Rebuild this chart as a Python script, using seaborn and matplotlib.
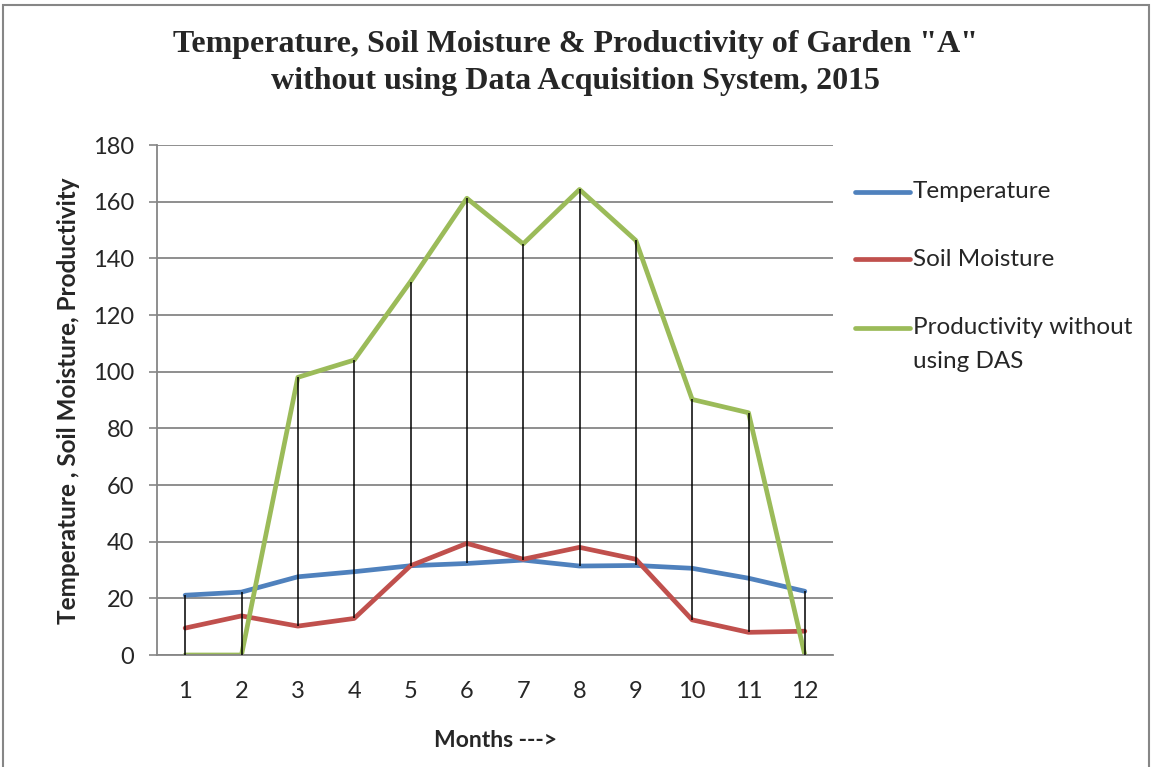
import numpy as np
import pandas as pd
import matplotlib
matplotlib.use("Agg")
import matplotlib.pyplot as plt
from matplotlib.lines import Line2D
from matplotlib.patches import Rectangle
import seaborn as sns

months = [1, 2, 3, 4, 5, 6, 7, 8, 9, 10, 11, 12]
temperature = [21.1, 22.2, 27.6, 29.4, 31.5, 32.3, 33.5, 31.4, 31.6, 30.6, 27.1, 22.5]
soil_moisture = [9.5, 13.8, 10.2, 12.9, 31.5, 39.4, 33.8, 38.0, 33.8, 12.4, 8.0, 8.4]
productivity = [0, 0, 98.0, 104.1, 131.8, 161.2, 145.1, 164.3, 146.3, 90.2, 85.5, 0]
series_names = ["Temperature", "Soil Moisture", "Productivity without using DAS"]
legend_labels = ["Temperature", "Soil Moisture", "Productivity without\nusing DAS"]
y_ticks = [0, 20, 40, 60, 80, 100, 120, 140, 160, 180]

title = 'Temperature, Soil Moisture & Productivity of Garden "A"\nwithout using Data Acquisition System, 2015'
x_label = "Months --->"
y_label = "Temperature , Soil Moisture, Productivity"

colors = ["#4F81BD", "#C0504D", "#9BBB59"]

df = pd.DataFrame({
    "Month": months * 3,
    "Value": temperature + soil_moisture + productivity,
    "Series": sum([[s] * len(months) for s in series_names], []),
})

sns.set_style("white")
plt.rcParams["font.family"] = ["Lato", "DejaVu Sans"]

W, H = 1151, 767
fig = plt.figure(figsize=(W / 100, H / 100), dpi=100)
L, R, T, B = 157, 833, 145, 655
ax = fig.add_axes([L / W, 1 - B / H, (R - L) / W, (B - T) / H])

grid_c = "#868686"
ax.set_ylim(0, 180)
ax.set_xlim(0.5, 12.5)
ax.set_yticks(y_ticks)
ax.set_xticks(months)
ax.yaxis.grid(True, color=grid_c, linewidth=1.3)
ax.xaxis.grid(False)
ax.set_axisbelow(True)

# high-low lines
vals = np.array([temperature, soil_moisture, productivity])
ax.vlines(months, vals.min(axis=0), vals.max(axis=0), color="black", linewidth=1.1, zorder=3)

sns.lineplot(data=df, x="Month", y="Value", hue="Series", hue_order=series_names,
             palette=colors, linewidth=3.4, ax=ax, legend=False, zorder=2,
             solid_capstyle="round", solid_joinstyle="round")

for side in ["top", "right"]:
    ax.spines[side].set_visible(False)
for side in ["left", "bottom"]:
    ax.spines[side].set_color(grid_c)
    ax.spines[side].set_linewidth(1.3)

ax.tick_params(axis="y", which="major", length=5.5, width=1.2, color=grid_c,
               labelsize=17, pad=11, left=True)
ax.tick_params(axis="x", which="major", length=0, labelsize=17, pad=19)

ax.set_xlabel(x_label, fontsize=16.5, fontweight="bold")
ax.set_ylabel(y_label, fontsize=17.5, fontweight="bold")
ax.xaxis.set_label_coords((495 - L) / (R - L), (B - 730) / (B - T))
ax.yaxis.set_label_coords((80 - L) / (R - L), (B - 401) / (B - T))

fig.text(0.5, 1 - 63 / H, title, ha="center", va="center", fontsize=23,
         fontweight="bold", family="Liberation Serif", linespacing=1.4)

# legend
leg_y = [192, 259, 328]
for c, lab, y in zip(colors, legend_labels, leg_y):
    fig.add_artist(Line2D([855 / W, 910 / W], [1 - y / H, 1 - y / H], color=c,
                          linewidth=3.4, solid_capstyle="round"))
    lines = lab.split("\n")
    for i, ln in enumerate(lines):
        fig.text(913 / W, 1 - (y + i * 34) / H, ln, ha="left", va="center", fontsize=17.5)

# outer border
fig.add_artist(Rectangle((3 / W, -0.02), (1149 - 3) / W, 1.02 - 4.5 / H,
                         transform=fig.transFigure, fill=False,
                         edgecolor=grid_c, linewidth=1.5))

fig.savefig("out.png", dpi=100)
